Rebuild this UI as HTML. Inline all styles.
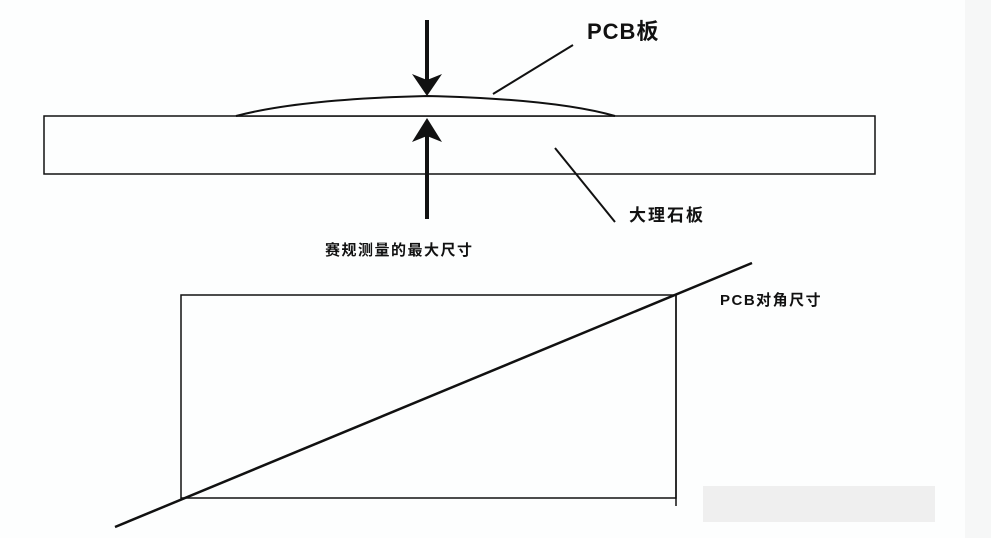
<!DOCTYPE html>
<html><head><meta charset="utf-8"><style>
html,body{margin:0;padding:0;background:#fdfefe;}
svg{display:block}
text{font-family:"Liberation Sans","Noto Sans CJK SC",sans-serif;font-weight:bold;fill:#111}
</style></head><body>
<svg width="991" height="538" viewBox="0 0 991 538" xmlns="http://www.w3.org/2000/svg">
<rect x="965" y="0" width="26" height="538" fill="#f6f7f7"/>
<rect x="44" y="116" width="831" height="58" fill="none" stroke="#111" stroke-width="1.5"/>
<path d="M236 116 Q300 99 427 96 Q555 99 615 116" fill="#fff" stroke="#111" stroke-width="2"/>
<line x1="236" y1="116" x2="615" y2="116" stroke="#111" stroke-width="1.5"/>
<line x1="427" y1="20" x2="427" y2="82" stroke="#111" stroke-width="4"/>
<polygon points="412,74 427,80 442,74 427,96" fill="#111"/>
<line x1="427" y1="130" x2="427" y2="219" stroke="#111" stroke-width="4"/>
<polygon points="412,142 427,136 442,142 427,118" fill="#111"/>
<line x1="493" y1="94" x2="573" y2="45" stroke="#111" stroke-width="2"/>
<line x1="555" y1="148" x2="615" y2="222" stroke="#111" stroke-width="2"/>
<text x="587" y="39" font-size="22" letter-spacing="1">PCB板</text>
<text x="629" y="221" font-size="17" letter-spacing="2">大理石板</text>
<text x="325" y="255" font-size="15" letter-spacing="1.5">赛规测量的最大尺寸</text>
<rect x="181" y="295" width="495" height="203" fill="none" stroke="#111" stroke-width="1.5"/>
<line x1="676" y1="295" x2="676" y2="506" stroke="#111" stroke-width="1.5"/>
<line x1="115" y1="527" x2="752" y2="263" stroke="#111" stroke-width="2.5"/>
<text x="720" y="305" font-size="15" letter-spacing="1.5">PCB对角尺寸</text>
<rect x="703" y="486" width="232" height="36" fill="#efefef"/>
</svg>
</body></html>
